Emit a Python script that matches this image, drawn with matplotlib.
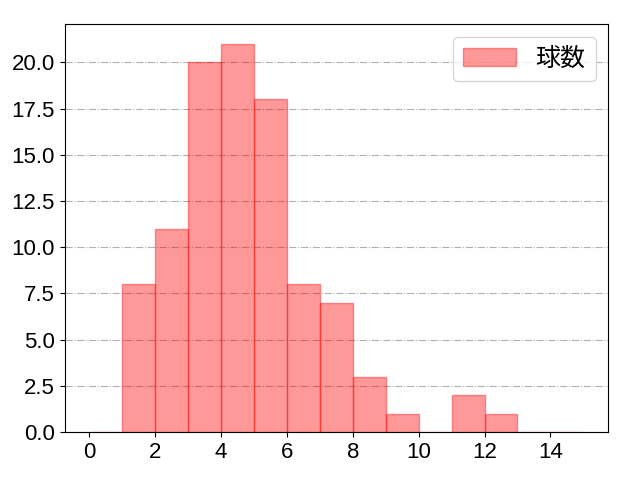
import matplotlib
matplotlib.use("Agg")
import matplotlib.pyplot as plt

plt.rcParams['font.family'] = ['Liberation Sans', 'Noto Sans CJK JP', 'DejaVu Sans']

bin_edges = list(range(0, 16))
counts = [0, 8, 11, 20, 21, 18, 8, 7, 3, 1, 0, 2, 1, 0, 0]
label = "球数"

fig, ax = plt.subplots(figsize=(6.4, 4.8), dpi=100)
fig.subplots_adjust(left=0.101, right=0.95, top=0.949, bottom=0.1)
ax.bar(bin_edges[:-1], counts, width=1, align='edge', color='red', alpha=0.4,
       edgecolor='red', linewidth=1, label=label)
ax.set_axisbelow(True)
ax.grid(axis='y', linestyle='-.', color='#b0b0b0', linewidth=0.8)
ax.set_xticks([0, 2, 4, 6, 8, 10, 12, 14])
ax.tick_params(labelsize=16)
ax.legend(fontsize=18, loc='upper right', handlelength=2.1)
fig.savefig("out.png", dpi=100)
